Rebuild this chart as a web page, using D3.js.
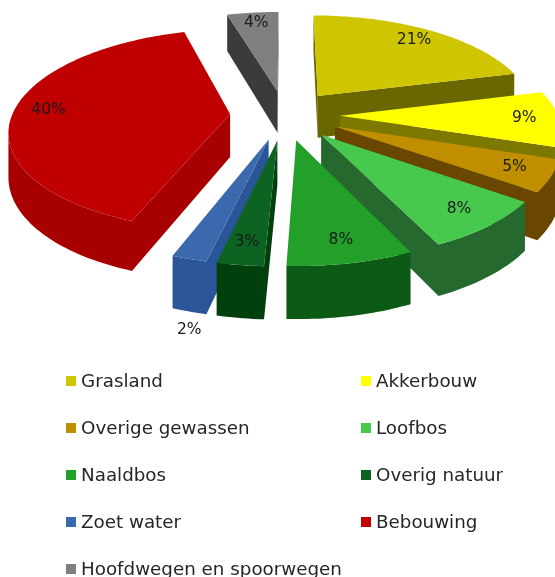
<!DOCTYPE html>
<html>
<head>
<meta charset="utf-8">
<script src="https://cdn.jsdelivr.net/npm/d3@7"></script>
<style>
  html, body { margin: 0; padding: 0; background: #fff; }
  svg { display: block; font-family: "DejaVu Sans", sans-serif; }
</style>
</head>
<body>
<svg id="chart"></svg>
<script>
const categories = ["Grasland", "Akkerbouw", "Overige gewassen", "Loofbos", "Naaldbos",
  "Overig natuur", "Zoet water", "Bebouwing", "Hoofdwegen en spoorwegen"];
const shares = [21, 9, 5, 8, 7.7, 2.85, 2.15, 39.8, 4.49];
const topColors = ["#cfc500", "#ffff00", "#bf8f00", "#47c94d", "#22a02a", "#0f6420", "#3a69ad", "#c00000", "#7f7f7f"];
const sideColors = ["#6b6600", "#7d7800", "#6b4700", "#28692f", "#0f5a16", "#063f10", "#2c5598", "#a80000", "#3a3a3a"];

const width = 555;
const height = 577;

// 3d look: a flat pie pushed through a small perspective
const cx = 285;
const cy = 115;
const radius = 218;
const explode = 55;
const tilt = 0.45;
const persp = 0.152;
const depth = 43;
const labelAt = 0.84;

const color = d3.scaleOrdinal(categories, topColors);
const side = d3.scaleOrdinal(categories, sideColors);

const slices = d3.pie()
    .sort(null)
    .value((d, i) => shares[i])(categories)
    .map(d => {
      d.mid = (d.startAngle + d.endAngle) / 2;
      d.ox = explode * Math.sin(d.mid);
      d.oz = explode * Math.cos(d.mid);
      return d;
    });

function project(d, r, a) {
  const x = d.ox + r * Math.sin(a);
  const z = d.oz + r * Math.cos(a);
  const s = 1 / (1 + persp * z / radius);
  return { x: cx + x * s, y: cy - z * tilt * s, s: s };
}

function arcPoints(d) {
  const n = Math.ceil((d.endAngle - d.startAngle) / 0.02);
  return d3.range(n + 1).map(i =>
    project(d, radius, d.startAngle + (d.endAngle - d.startAngle) * i / n));
}

const line = d3.line().x(p => p.x).y(p => p.y).curve(d3.curveLinearClosed);

function wall(run) {
  const lower = run.map(p => ({ x: p.x, y: p.y + depth * p.s }));
  return line(run.concat(lower.reverse()));
}

// an edge that runs left along the clockwise outline has its wall facing us,
// neighbouring edges are joined so that the wall is one shape
function facingRuns(outline) {
  const runs = [];
  let run = null;
  d3.pairs(outline).forEach(([a, b]) => {
    if (b.x < a.x) {
      if (run) run.push(b);
      else runs.push(run = [a, b]);
    } else {
      run = null;
    }
  });
  return runs;
}

// too thin to hold its label, so it hangs below the slice
function labelPos(d) {
  if (d.value < 2.5) {
    const rim = project(d, radius, d.mid);
    return { x: rim.x, y: rim.y + depth * rim.s + 19 };
  }
  return project(d, radius * labelAt, d.mid);
}

const svg = d3.select("svg#chart")
    .attr("width", width)
    .attr("height", height)
    .attr("viewBox", [0, 0, width, height]);

// the reference is a soft, scaled up image
svg.append("defs")
    .append("filter")
    .attr("id", "soft")
    .append("feGaussianBlur")
    .attr("stdDeviation", 0.45);

const root = svg.append("g").attr("filter", "url(#soft)");

// back to front
const ordered = slices.slice().sort((a, b) => b.oz - a.oz);

const slice = root.append("g")
    .selectAll("g")
    .data(ordered)
    .join("g");

slice.each(function(d) {
  const g = d3.select(this);
  const apex = project(d, 0, 0);
  const arc = arcPoints(d);
  g.selectAll("path.wall")
      .data(facingRuns([apex].concat(arc, [apex])))
      .join("path")
      .attr("class", "wall")
      .attr("fill", side(d.data))
      .attr("d", wall);
  g.append("path")
      .attr("fill", color(d.data))
      .attr("d", line([apex].concat(arc)));
});

// labels go on top of every slice
root.append("g")
    .attr("font-size", 15.5)
    .attr("fill", "#1a1a1a")
    .attr("text-anchor", "middle")
    .selectAll("text")
    .data(slices)
    .join("text")
    .attr("dy", "0.22em")
    .attr("x", d => labelPos(d).x)
    .attr("y", d => labelPos(d).y)
    .text(d => Math.round(d.value) + "%");

const legendCol = d3.scalePoint().domain([0, 1]).range([66, 361]);
const legendRow = d3.scalePoint().domain(d3.range(5)).range([380, 568]);

const legend = root.append("g")
    .selectAll("g")
    .data(categories)
    .join("g")
    .attr("transform", (d, i) => `translate(${legendCol(i % 2)},${legendRow(Math.floor(i / 2))})`);

legend.append("rect")
    .attr("y", -4)
    .attr("width", 10)
    .attr("height", 10)
    .attr("fill", d => color(d));

legend.append("text")
    .attr("x", 15)
    .attr("dy", "0.36em")
    .attr("font-size", 18.3)
    .attr("fill", "#262626")
    .text(d => d);
</script>
</body>
</html>
